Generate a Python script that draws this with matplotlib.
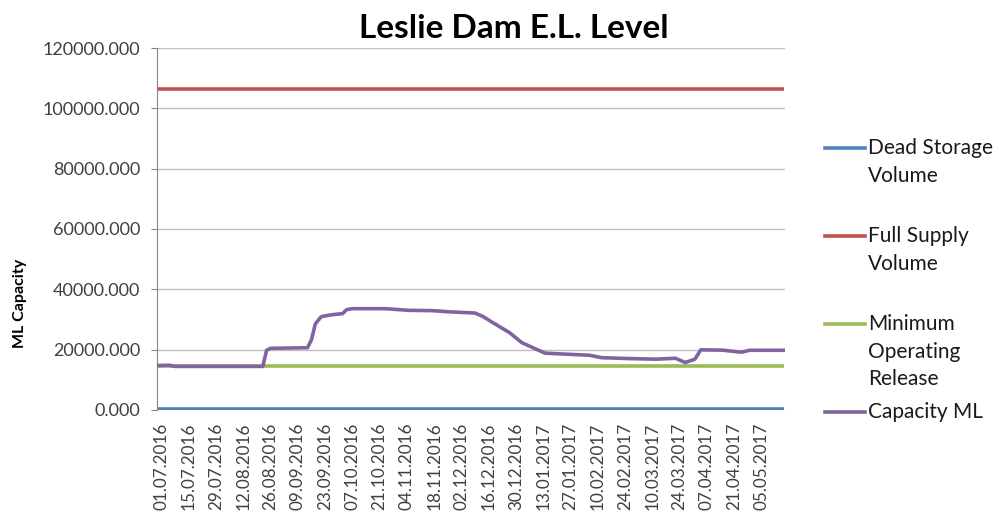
import matplotlib
matplotlib.use("Agg")
import matplotlib.pyplot as plt
import matplotlib.dates as mdates
import matplotlib.ticker as mticker
import matplotlib.transforms as mtransforms
from matplotlib.lines import Line2D
import pandas as pd
import numpy as np

# reference levels (ML)
dead_storage = 200
full_supply = 106250
min_operating = 14500

# Capacity ML at its turning points
cap_dates = ["01.07.2016", "07.07.2016", "10.07.2016", "24.08.2016", "26.08.2016",
             "28.08.2016", "16.09.2016", "18.09.2016", "20.09.2016", "23.09.2016",
             "28.09.2016", "04.10.2016", "06.10.2016", "09.10.2016", "26.10.2016",
             "07.11.2016", "19.11.2016", "28.11.2016", "11.12.2016", "15.12.2016",
             "20.12.2016", "29.12.2016", "04.01.2017", "16.01.2017", "01.02.2017",
             "08.02.2017", "14.02.2017", "28.02.2017", "14.03.2017", "24.03.2017",
             "29.03.2017", "03.04.2017", "06.04.2017", "17.04.2017", "27.04.2017",
             "01.05.2017", "19.05.2017"]
cap_values = [14700, 14800, 14400, 14400, 19800,
              20400, 20600, 23200, 28500, 30900,
              31500, 31900, 33200, 33550, 33550,
              33000, 32900, 32500, 32100, 31000,
              29000, 25500, 22300, 18800, 18300,
              18100, 17300, 17000, 16800, 17100,
              15700, 16800, 19900, 19800, 19100,
              19750, 19750]

series_names = ["Dead Storage\nVolume", "Full Supply\nVolume",
                "Minimum\nOperating\nRelease", "Capacity ML"]
series_colors = ["#4F81BD", "#C0504D", "#9BBB59", "#8064A2"]

dates = pd.to_datetime(cap_dates, format="%d.%m.%Y")
start, end = dates[0], dates[-1]
all_days = pd.date_range(start, end, freq="D")

fig = plt.figure(figsize=(9.98, 5.11), dpi=100)
ax = fig.add_axes([0.157, 0.198, 0.630, 0.708])

lw = 2.6
levels = [dead_storage, full_supply, min_operating]
for lvl, c in zip(levels, series_colors[:3]):
    ax.plot(all_days, np.full(len(all_days), lvl), color=c, lw=lw,
            solid_capstyle="butt", zorder=3)
ax.plot(dates, cap_values, color=series_colors[3], lw=lw,
        solid_joinstyle="round", zorder=4)

ax.set_xlim(start - pd.Timedelta(hours=12), end + pd.Timedelta(hours=12))
ax.set_ylim(0, 120000)
ax.yaxis.set_major_locator(mticker.MultipleLocator(20000))
ax.yaxis.set_major_formatter(mticker.FuncFormatter(lambda v, p: f"{v:.3f}"))
ax.set_xticks(pd.date_range(start, pd.Timestamp("2017-05-05"), freq="14D"))
ax.xaxis.set_major_formatter(mdates.DateFormatter("%d.%m.%Y"))

ax.grid(axis="y", color="#BFBFBF", lw=1)
ax.set_axisbelow(True)
for s in ["top", "right", "bottom"]:
    ax.spines[s].set_visible(False)
ax.spines["left"].set_color("#868686")
ax.tick_params(axis="y", length=4, color="#868686", labelsize=13, labelcolor="#404040", pad=8)
ax.tick_params(axis="x", length=0, labelsize=12.3, labelcolor="#404040", rotation=90, pad=9)
for t in ax.get_yticklabels():
    t.set_family("Lato")
shift = mtransforms.ScaledTranslation(4 / 100, 0, fig.dpi_scale_trans)
for t in ax.get_xticklabels():
    t.set_family("Lato")
    t.set_transform(t.get_transform() + shift)

ax.set_ylabel("ML Capacity", fontsize=11.5, fontweight="bold", family="Lato")
ax.yaxis.set_label_coords(-0.207, 0.293)
fig.text(514 / 998, 1 - 38 / 511, "Leslie Dam E.L. Level", fontsize=24,
         fontweight="bold", family="Lato", ha="center", va="baseline")

# legend, entries evenly spaced like the Excel original
for i, (name, c) in enumerate(zip(series_names, series_colors)):
    y = 1 - (148 + 88 * i) / 511
    fig.add_artist(Line2D([825 / 998, 865 / 998], [y, y], color=c, lw=lw,
                          transform=fig.transFigure))
    fig.text(868 / 998, y + 9.5 / 511, name, fontsize=15, family="Lato", va="top",
             linespacing=1.45, color="#1a1a1a")

fig.savefig("out.png", dpi=100)
